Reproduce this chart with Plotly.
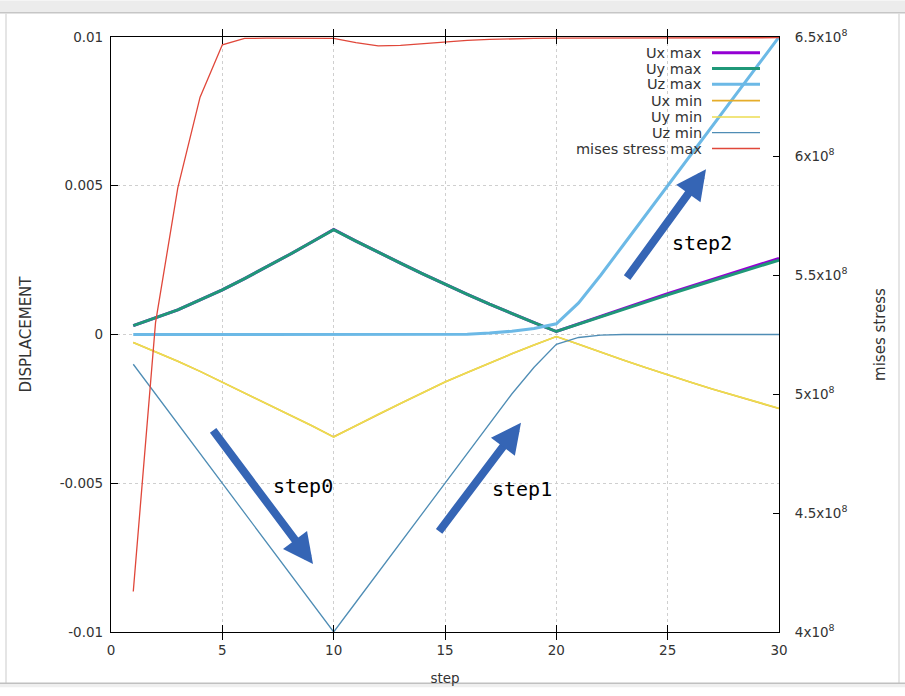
import plotly.graph_objects as go

# ---------------- data ----------------
steps = list(range(1, 31))

ux_max = [0.00030, 0.00056, 0.00083, 0.00116, 0.00150, 0.00188, 0.00227, 0.00268, 0.00310, 0.00353,
          0.00314, 0.00276, 0.00240, 0.00204, 0.00169, 0.00135, 0.00102, 0.00070, 0.00040, 0.00010,
          0.00036, 0.00062, 0.00087, 0.00112, 0.00137, 0.00161, 0.00185, 0.00209, 0.00232, 0.00256]
uy_max = [0.00030, 0.00056, 0.00083, 0.00116, 0.00150, 0.00188, 0.00227, 0.00268, 0.00310, 0.00352,
          0.00314, 0.00276, 0.00240, 0.00204, 0.00169, 0.00135, 0.00102, 0.00070, 0.00040, 0.00010,
          0.00035, 0.00060, 0.00085, 0.00109, 0.00133, 0.00157, 0.00180, 0.00204, 0.00227, 0.00250]
uz_max = [0.0, 0.0, 0.0, 0.0, 0.0, 0.0, 0.0, 0.0, 0.0, 0.0,
          0.0, 0.0, 0.0, 0.0, 0.0, 0.00001, 0.00005, 0.00011, 0.00020, 0.00036,
          0.00106, 0.00200, 0.00300, 0.00400, 0.00500, 0.00600, 0.00700, 0.00800, 0.00900, 0.01000]
ux_min = [-0.00027, -0.00058, -0.00090, -0.00124, -0.00160, -0.00196, -0.00232, -0.00268, -0.00306, -0.00344,
          -0.00306, -0.00268, -0.00232, -0.00196, -0.00160, -0.00128, -0.00096, -0.00065, -0.00035, -0.00007,
          -0.00033, -0.00060, -0.00086, -0.00111, -0.00136, -0.00160, -0.00183, -0.00205, -0.00227, -0.00249]
uy_min = [-0.00027, -0.00058, -0.00090, -0.00124, -0.00160, -0.00196, -0.00232, -0.00268, -0.00306, -0.00345,
          -0.00306, -0.00268, -0.00232, -0.00196, -0.00160, -0.00128, -0.00096, -0.00065, -0.00035, -0.00007,
          -0.00033, -0.00060, -0.00086, -0.00111, -0.00136, -0.00160, -0.00183, -0.00205, -0.00227, -0.00248]
uz_min = [-0.0010, -0.0020, -0.0030, -0.0040, -0.0050, -0.0060, -0.0070, -0.0080, -0.0090, -0.0100,
          -0.0090, -0.0080, -0.0070, -0.0060, -0.0050, -0.0040, -0.0030, -0.0020, -0.0011, -0.00033,
          -0.00010, -0.00002, 0.0, 0.0, 0.0, 0.0, 0.0, 0.0, 0.0, 0.0]
mises_max = [4.17e8, 5.30e8, 5.866e8, 6.247e8, 6.467e8, 6.494e8, 6.495e8, 6.495e8, 6.495e8, 6.494e8,
             6.476e8, 6.463e8, 6.465e8, 6.473e8, 6.480e8, 6.486e8, 6.490e8, 6.493e8, 6.494e8, 6.495e8,
             6.495e8, 6.495e8, 6.496e8, 6.496e8, 6.496e8, 6.497e8, 6.497e8, 6.497e8, 6.497e8, 6.497e8]

x_ticks = [0, 5, 10, 15, 20, 25, 30]
y_ticks = [0.01, 0.005, 0, -0.005, -0.01]
y_tick_text = ["0.01", "0.005", "0", "-0.005", "-0.01"]
y2_ticks = [4.0e8, 4.5e8, 5.0e8, 5.5e8, 6.0e8, 6.5e8]
y2_tick_text = ["4x10<sup>8</sup>", "4.5x10<sup>8</sup>", "5x10<sup>8</sup>",
                "5.5x10<sup>8</sup>", "6x10<sup>8</sup>", "6.5x10<sup>8</sup>"]

series = [
    ("Ux max", ux_max, "y", "#9400d3", 3.0),
    ("Uy max", uy_max, "y", "#1f9878", 3.0),
    ("Uz max", uz_max, "y", "#6cb9e6", 3.0),
    ("Ux min", ux_min, "y", "#e6ad2a", 1.6),
    ("Uy min", uy_min, "y", "#ecdc52", 1.6),
    ("Uz min", uz_min, "y", "#4f8db5", 1.3),
    ("mises stress max", mises_max, "y2", "#e0473a", 1.3),
]

# ---------------- layout geometry (pixels) ----------------
W, H = 905, 696
L, R, T, B = 111, 779, 37, 640


def px(xp):
    return (xp - L) / (R - L)


def py(yp):
    return (B - yp) / (B - T)


fig = go.Figure()
for name, vals, ax, col, w in series:
    fig.add_trace(go.Scatter(x=steps, y=vals, name=name, yaxis=ax, mode="lines",
                             line=dict(color=col, width=w), showlegend=False))

tick_font = dict(family="DejaVu Sans", size=13.5, color="#333333")
title_font = dict(family="DejaVu Sans", size=15, color="#333333")

fig.update_layout(
    width=W, height=H,
    margin=dict(l=L, r=W - R, t=T, b=H - B, pad=0),
    paper_bgcolor="white", plot_bgcolor="white",
    xaxis=dict(range=[0, 30], tickvals=x_ticks, ticks="inside", ticklen=7, tickcolor="black",
               showline=True, linecolor="black", linewidth=1.2, mirror="allticks",
               showgrid=True, gridcolor="#cfcfcf", griddash="dot", gridwidth=1,
               zeroline=False, tickfont=tick_font, ticklabelstandoff=6,
               title=dict(text="step", font=dict(family="DejaVu Sans", size=13.5, color="#333333"),
                          standoff=16)),
    yaxis=dict(range=[-0.01, 0.01], tickvals=y_ticks, ticktext=y_tick_text, ticks="inside",
               ticklen=7, tickcolor="black", showline=True, linecolor="black", linewidth=1.2,
               showgrid=True, gridcolor="#cfcfcf", griddash="dot", gridwidth=1,
               zeroline=False, tickfont=tick_font, ticklabelstandoff=4,
               title=dict(text="DISPLACEMENT", font=title_font, standoff=24)),
    yaxis2=dict(range=[4.0e8, 6.5e8], overlaying="y", side="right", tickvals=y2_ticks,
                ticktext=y2_tick_text, ticks="inside", ticklen=6, tickcolor="black",
                showline=True, linecolor="black", linewidth=1.2, showgrid=False, zeroline=False,
                tickfont=tick_font, ticklabelstandoff=12,
                title=dict(text="mises stress", font=title_font, standoff=28)),
)

shapes = []
annotations = []

# opaque key background (hides grid behind key)
shapes.append(dict(type="rect", xref="paper", yref="paper", x0=px(540), x1=px(778),
                   y0=py(159), y1=py(38), fillcolor="white", line=dict(width=0), layer="between"))

# manual key (gnuplot style: label right-aligned, sample to the right)
key_rows = [53, 69, 85, 101.5, 118, 134, 150]
for (name, vals, ax, col, w), ry in zip(series, key_rows):
    annotations.append(dict(xref="paper", yref="paper", x=px(704), y=py(ry), text=name,
                            showarrow=False, xanchor="right", yanchor="middle",
                            font=dict(family="DejaVu Sans", size=14.5, color="#333333")))
    shapes.append(dict(type="line", xref="paper", yref="paper", x0=px(712), x1=px(760),
                       y0=py(ry), y1=py(ry), line=dict(color=col, width=w), layer="above"))

# blue arrows with step labels
arrow_col = "#3565b5"
arrows = [((313, 571), (212, 436)), ((521, 428), (438, 538)), ((706, 171), (626, 281))]
for (tx, ty), (sx, sy) in arrows:
    annotations.append(dict(xref="paper", yref="paper", x=px(tx), y=py(ty),
                            axref="pixel", ayref="pixel", ax=sx - tx, ay=sy - ty,
                            showarrow=True, arrowhead=2, arrowsize=0.75, arrowwidth=8,
                            arrowcolor=arrow_col, text="", standoff=0))
labels = [("step0", 303, 492), ("step1", 522, 495), ("step2", 702, 246)]
for txt, lx, ly in labels:
    annotations.append(dict(xref="paper", yref="paper", x=px(lx), y=py(ly), text=txt,
                            showarrow=False, xanchor="center", yanchor="middle",
                            font=dict(family="DejaVu Sans Mono", size=20, color="black")))

# window frame
shapes.append(dict(type="rect", xref="paper", yref="paper", x0=px(0), x1=px(W),
                   y0=py(12), y1=py(0), fillcolor="#ececec", line=dict(width=0), layer="above"))
shapes.append(dict(type="line", xref="paper", yref="paper", x0=px(0), x1=px(W),
                   y0=py(12.5), y1=py(12.5), line=dict(color="#c6c6c6", width=1.5)))
shapes.append(dict(type="line", xref="paper", yref="paper", x0=px(6), x1=px(6),
                   y0=py(13), y1=py(692), line=dict(color="#dddddd", width=1.5)))
shapes.append(dict(type="line", xref="paper", yref="paper", x0=px(899), x1=px(899),
                   y0=py(13), y1=py(692), line=dict(color="#dddddd", width=1.5)))
shapes.append(dict(type="rect", xref="paper", yref="paper", x0=px(0), x1=px(W),
                   y0=py(H), y1=py(692), fillcolor="#efefef", line=dict(width=0), layer="above"))
shapes.append(dict(type="line", xref="paper", yref="paper", x0=px(0), x1=px(W),
                   y0=py(692), y1=py(692), line=dict(color="#c0c0c0", width=1.5)))

fig.update_layout(shapes=shapes, annotations=annotations)
fig.write_html("out.html", config={"displayModeBar": False},
               post_script="document.body.style.margin='0px';document.body.style.overflow='hidden';")
